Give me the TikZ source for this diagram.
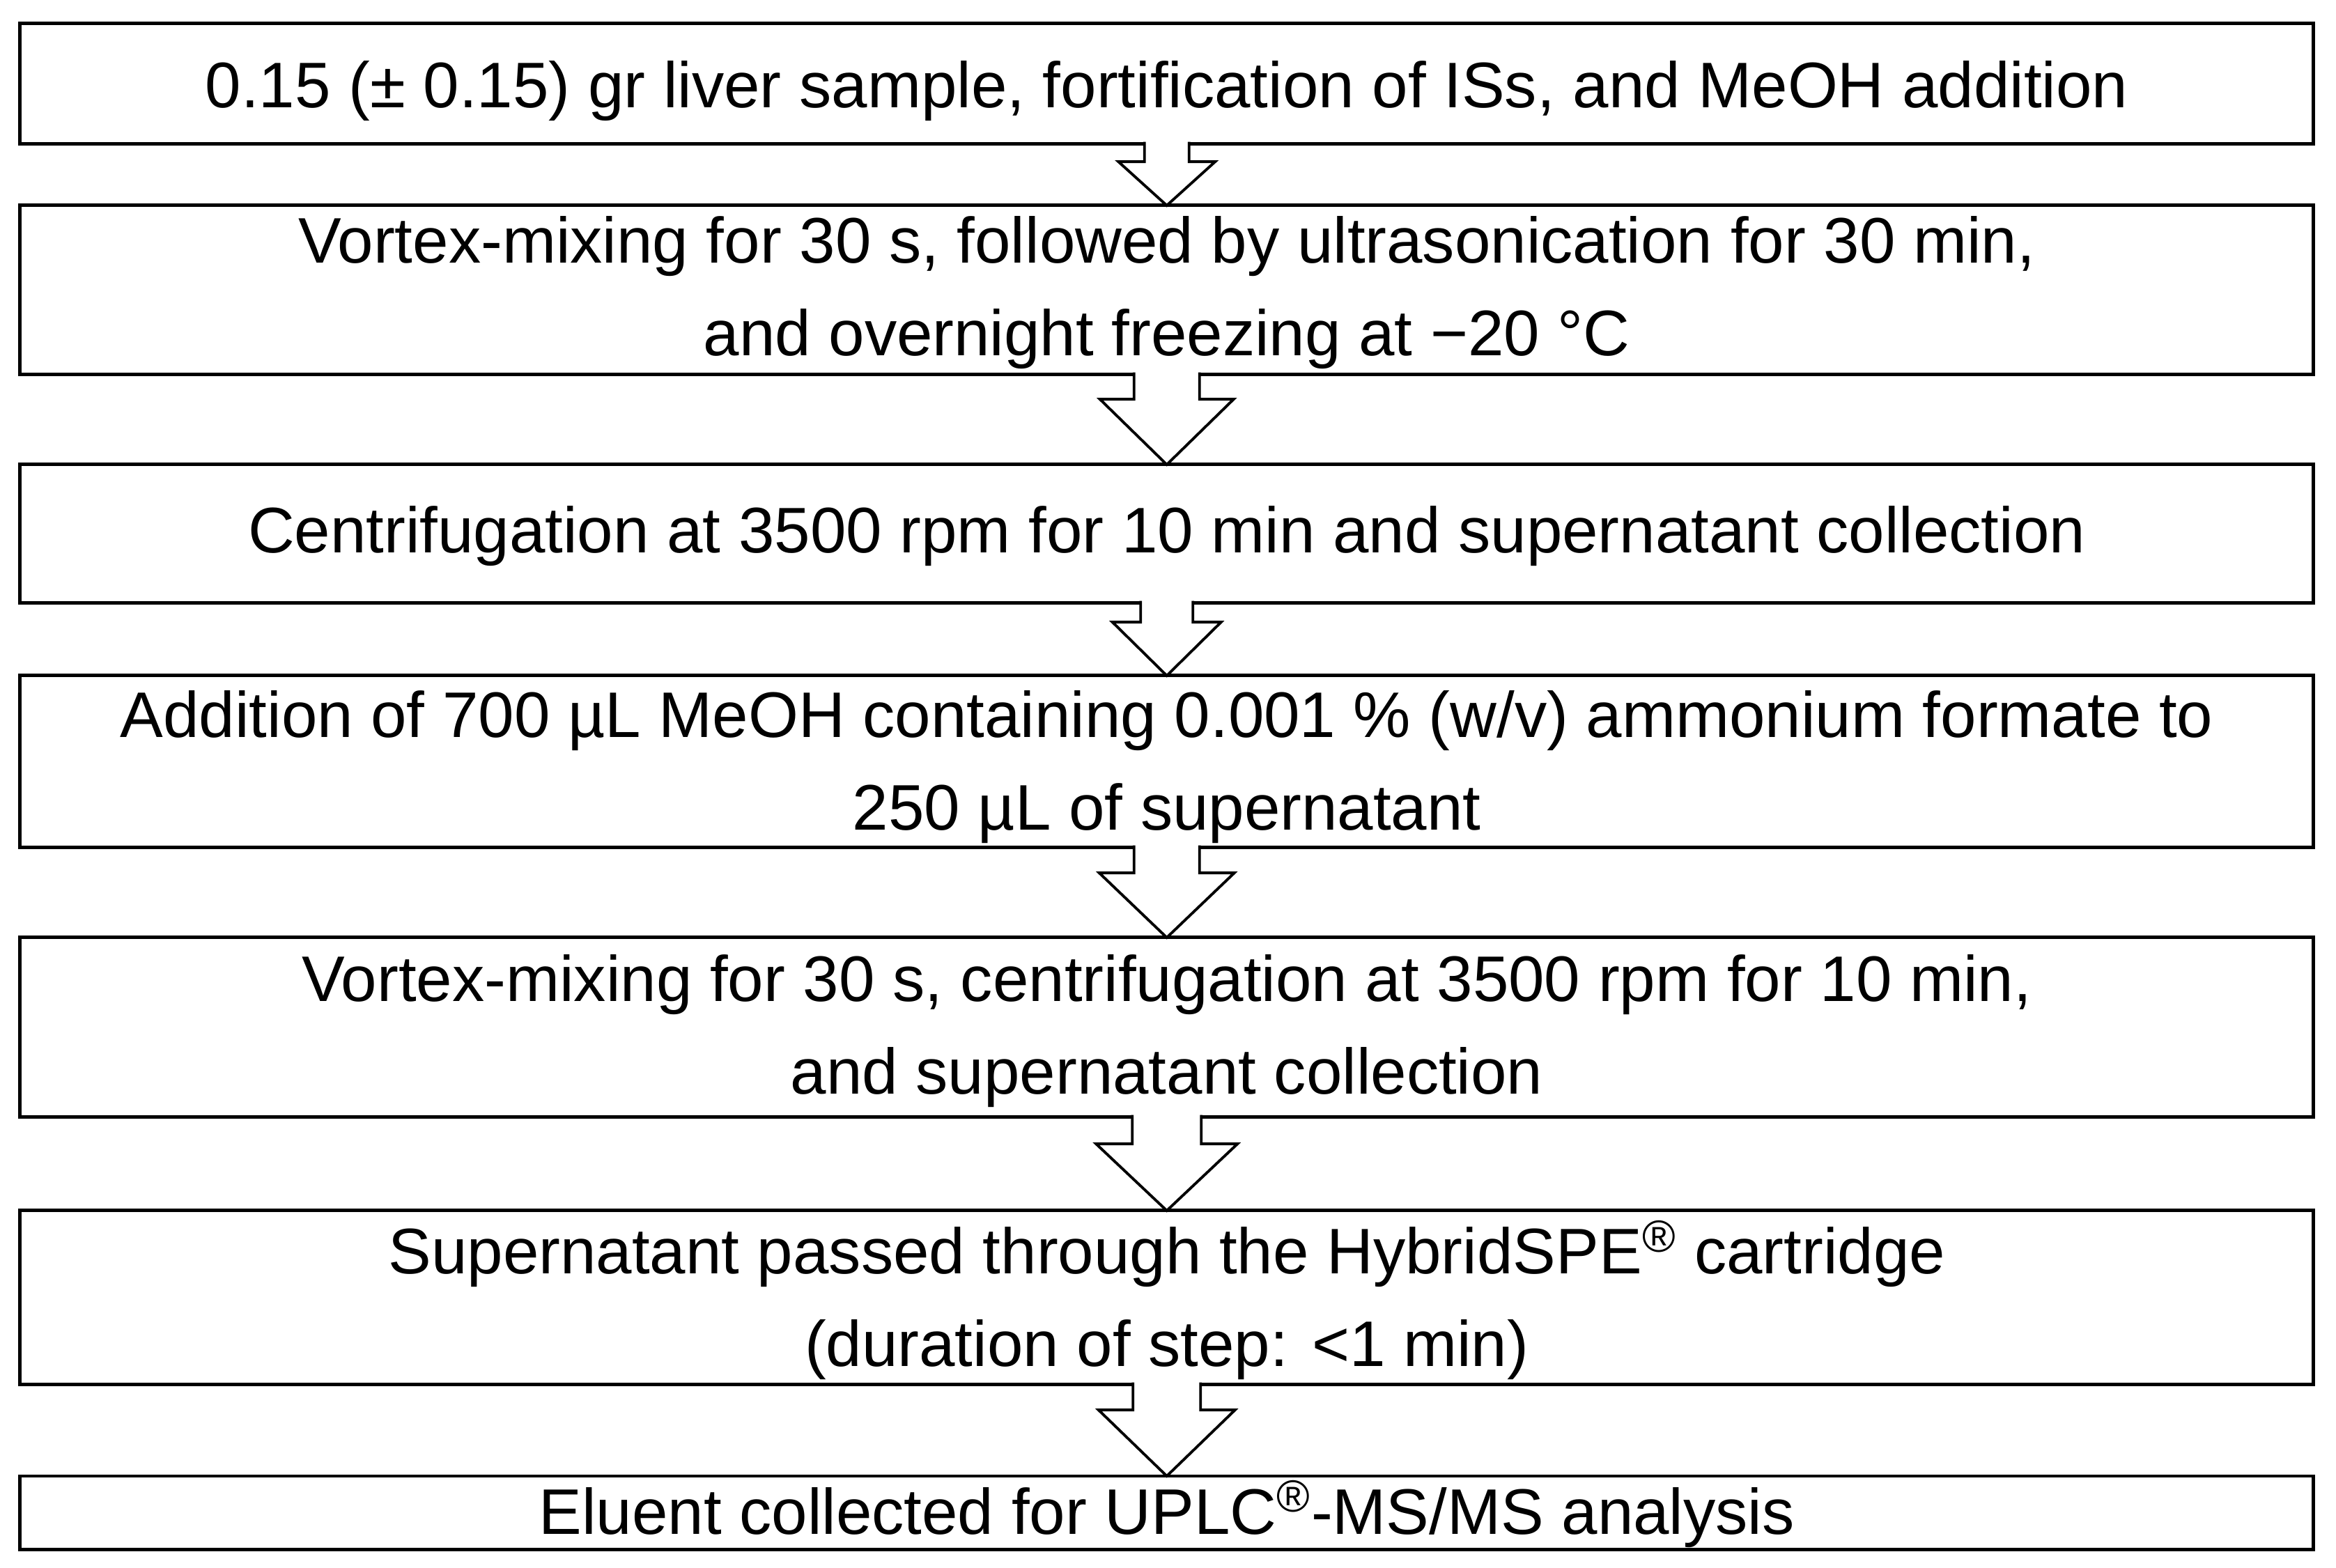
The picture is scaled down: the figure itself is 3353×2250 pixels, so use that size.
\documentclass[tikz,border=0pt]{standalone}
\usepackage{fontspec}
\setmainfont{Liberation Sans}
\usetikzlibrary{calc}
\newcommand{\stepArrow}[5]{%
  \draw[blockarrow] ($(#1.south)+(-#3,-2.5)$) -- ($(#1.south)+(-#3,#5)$) -- ($(#1.south)+(-#4,#5)$) -- (#2.north) -- ($(#1.south)+(#4,#5)$) -- ($(#1.south)+(#3,#5)$) -- ($(#1.south)+(#3,-2.5)$);}
\begin{document}
\begin{tikzpicture}[x=0.01cm,y=-0.01cm,
  stepbox/.style={draw=black, line width=1.42pt, minimum width=32.905cm, inner sep=0pt, outer sep=0pt, anchor=center},
  steptext/.style={inner sep=0pt, outer sep=0pt, align=center, font=\fontsize{26.3pt}{37.84pt}\selectfont, anchor=center},
  blockarrow/.style={draw=black, fill=white, line width=1.1pt, line join=miter}]
\useasboundingbox (0,0) rectangle (3353,2250);
\node[stepbox, minimum height=1.72cm] (b1) at (1674.75,120) {};
\node[stepbox, minimum height=2.42cm] (b2) at (1674.75,416) {};
\node[stepbox, minimum height=1.98cm] (b3) at (1674.75,766) {};
\node[stepbox, minimum height=2.46cm] (b4) at (1674.75,1093) {};
\node[stepbox, minimum height=2.57cm] (b5) at (1674.75,1474.5) {};
\node[stepbox, minimum height=2.49cm] (b6) at (1674.75,1862.5) {};
\node[stepbox, minimum height=1.05cm] (b7) at (1674.75,2171.5) {};
\node[steptext] (t1) at ($(b1.center)+(0,11)$) {0.15 (± 0.15) gr liver sample, fortification of ISs, and MeOH addition};
\node[steptext] (t2) at ($(b2.center)+(0,4)$) {Vortex-mixing for 30 s, followed by ultrasonication for 30 min,\\and overnight freezing at −20 °C};
\node[steptext] (t3) at ($(b3.center)+(0,4)$) {Centrifugation at 3500 rpm for 10 min and supernatant collection};
\node[steptext] (t4) at ($(b4.center)+(0,8)$) {Addition of 700 µL MeOH containing 0.001 \% (w/v) ammonium formate to\\250 µL of supernatant};
\node[steptext] (t5) at ($(b5.center)+(0,6)$) {Vortex-mixing for 30 s, centrifugation at 3500 rpm for 10 min,\\and supernatant collection};
\node[steptext] (t6) at ($(b6.center)+(0,4)$) {Supernatant passed through the HybridSPE\textsuperscript{®} cartridge\\(duration of step: <1 min)};
\node[steptext] (t7) at ($(b7.center)+(0,2)$) {Eluent collected for UPLC\textsuperscript{®}-MS/MS analysis};
\stepArrow{b1}{b2}{32}{69.5}{26}
\stepArrow{b2}{b3}{47}{96}{36}
\stepArrow{b3}{b4}{37.5}{78}{28}
\stepArrow{b4}{b5}{47}{97}{37}
\stepArrow{b5}{b6}{49.5}{101.5}{39}
\stepArrow{b6}{b7}{48.5}{98}{37}
\end{tikzpicture}
\end{document}
